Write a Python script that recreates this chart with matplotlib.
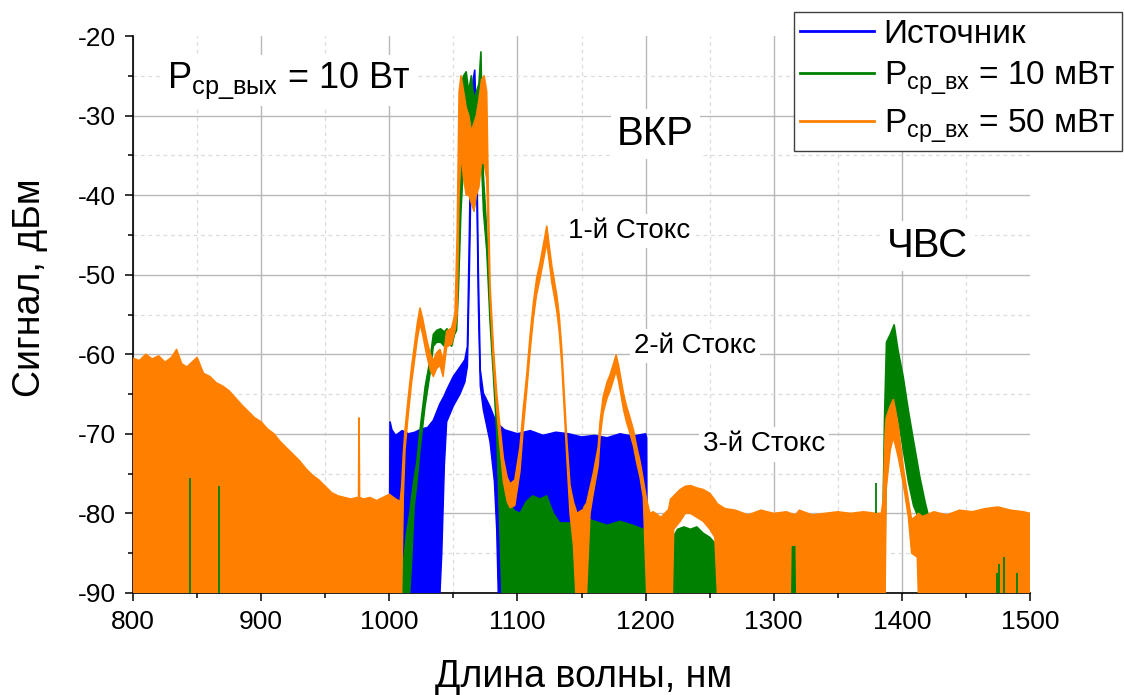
import numpy as np
import matplotlib
matplotlib.use('Agg')
import matplotlib.pyplot as plt
from matplotlib.lines import Line2D

plt.rcParams['font.family'] = ['Liberation Sans', 'DejaVu Sans']
plt.rcParams['mathtext.fontset'] = 'custom'
plt.rcParams['mathtext.rm'] = 'Liberation Sans'
plt.rcParams['mathtext.it'] = 'Liberation Sans'
plt.rcParams['mathtext.default'] = 'regular'
plt.rcParams['axes.unicode_minus'] = False

nan = np.nan

# Envelopes of the noisy spectra: wavelength (nm), top and bottom (dBm)
src_wl = [1000, 1000.6, 1002, 1005, 1010, 1015, 1020, 1025, 1030, 1034.4, 1039.6, 1041, 1043,
          1044.8, 1050, 1055.2, 1059, 1061, 1062.5, 1064, 1065.5, 1066.7, 1068, 1069.5, 1071,
          1073.4, 1078.6, 1082, 1083.8, 1085, 1090, 1100, 1110, 1120, 1130, 1140, 1150, 1160,
          1170, 1180, 1190, 1200, 1200.8, 1201.2]
src_top = [-90, -68.5, -69.5, -70.2, -69.6, -70.0, -69.8, -69.4, -69.2, -68.3, -66.2, -65.8, -65.2,
           -64.5, -62.8, -61.6, -60.7, -59, -45, -30, -25.5, -24.3, -32, -50, -62,
           -64.9, -66.6, -68, -68.3, -68.8, -69.5, -70.0, -69.6, -70.2, -69.8, -70.0, -70.4, -70.2,
           -70.5, -70.0, -70.3, -70.0, -70.5, -90]
src_bot = [-90, -90, -90, -90, -90, -90, -90, -90, -90, -90, -90, -85, -74,
           -68.5, -66.5, -65, -63.5, -61.5, -50, -36, -28, -27, -36, -54, -64,
           -67, -71, -76, -82, -90, -90, -90, -90, -90, -90, -90, -90, -90,
           -90, -90, -90, -90, -90, -90]

p10_wl = [1008, 1009, 1011, 1013.5, 1016, 1017.5, 1019.5, 1021.4, 1024, 1028, 1031.8, 1034.4, 1037,
          1040, 1043, 1045, 1048.7, 1051, 1052.6, 1054, 1056, 1058, 1060, 1062, 1064, 1066, 1068,
          1070, 1071.5, 1073.4, 1076, 1078.6, 1081.3, 1083.8, 1087.8, 1090, 1093, 1097, 1102, 1107,
          1112, 1117.6, 1122.8, 1128, 1133, 1144, 1150, 1156.6, 1170, 1180, 1190, 1198.2, 1200.8,
          1201.2, 1210,
          1221.0, 1221.6, 1225, 1230, 1235, 1240, 1245, 1250, 1255.5, 1256, 1290,
          1313, 1313.5, 1317.5, 1318, 1350,
          1385, 1385.5, 1386.5, 1388, 1391, 1394, 1397, 1401, 1405, 1409, 1414, 1418, 1421, 1422]
p10_top = [-90, -88, -86.3, -82.5, -80, -77.9, -75.5, -73.7, -69.5, -64.1, -60.7, -57.5, -57,
           -56.8, -57.2, -56.8, -57.6, -55.5, -54.4, -40, -26, -25, -24.5, -27, -25, -28, -27,
           -26, -22, -37.5, -44.4, -53.5, -60.3, -67.2, -74, -77, -78, -79.6, -80, -78.5,
           -77.8, -78.2, -77.8, -80, -81.2, -81.2, -81.5, -80.8, -81.5, -81, -81.5, -82, -82,
           -90, nan,
           -90, -83, -82, -81.7, -82, -81.7, -82.5, -83, -84, -90, nan,
           -90, -84, -84, -90, nan,
           -90, -78, -68, -58.5, -57.5, -56.3, -59.5, -62.8, -67, -70.8, -75.4, -78.5, -80.5, -90]
p10_bot = [-90, -90, -90, -90, -90, -86, -79, -76.5, -72, -66.5, -62.5, -59, -58.5,
           -58.5, -59, -58.5, -59, -57.5, -57, -52, -42, -36, -35, -38, -36, -42, -40,
           -38, -34, -42, -47, -56, -63, -70, -90, -90, -90, -90, -90, -90,
           -90, -90, -90, -90, -90, -90, -90, -90, -90, -90, -90, -90, -90,
           -90, nan,
           -90, -90, -90, -90, -90, -90, -90, -90, -90, -90, nan,
           -90, -90, -90, -90, nan,
           -90, -90, -90, -72, -68, -66, -68, -72, -76, -79, -81, -82, -83, -90]

p50_wl = [800, 805, 810, 815, 820, 825, 830, 834, 838, 842, 846, 850, 855, 860, 865, 870, 875,
          880, 885, 890, 895, 900, 905, 910, 915, 920, 925, 930, 935, 940, 945, 950, 955, 960,
          965, 970, 975, 976.0, 976.4, 976.8, 980, 985, 990, 995, 1000, 1005, 1008.5,
          1009.7, 1011, 1012.3, 1014.9, 1017.5, 1020, 1022, 1024, 1026, 1029, 1032, 1034.4, 1037,
          1039.6, 1042, 1044.8, 1048.7, 1051.3, 1053, 1054.5, 1056, 1058, 1060, 1062, 1064, 1066,
          1068, 1070, 1072, 1074, 1076, 1077.5, 1078.6, 1081.3, 1083.8, 1086, 1089, 1092, 1094.3,
          1098, 1102, 1104.5, 1107.3, 1110, 1112.5, 1115, 1117.7, 1120, 1122.9, 1124.5, 1126.8,
          1128.5, 1130.7, 1132.5, 1134.6, 1136.5, 1138.5, 1141, 1143.7, 1145.5, 1146.3, 1151.5,
          1152, 1154, 1156.7, 1159.2, 1163.1, 1164.5, 1167, 1170, 1172.3, 1175, 1177, 1179,
          1182.7, 1185.2, 1187, 1190.5, 1193, 1195.7, 1198.2, 1200.8, 1203.4, 1206,
          1212, 1218, 1219.5, 1221, 1222, 1227, 1231, 1235, 1240, 1245, 1250.2, 1254, 1256,
          1262, 1270, 1280, 1290, 1300, 1310, 1313, 1313.5, 1317.5, 1318, 1320, 1330, 1340,
          1350, 1360, 1370, 1380, 1384, 1385.5, 1387, 1387.8, 1391, 1393.3, 1395, 1397.2, 1401,
          1405, 1407.6, 1412, 1412.8, 1416, 1425, 1435, 1445, 1455, 1465, 1475, 1485, 1495, 1500]
p50_top = [-60.5, -60.8, -60.0, -60.6, -60.2, -61.0, -60.4, -59.4, -61.2, -61.6, -61.0, -60.4,
           -62.4, -62.8, -63.6, -64.0, -64.6, -65.5, -66.4, -67.2, -68.0, -68.5, -69.4, -70.0,
           -71.0, -71.8, -72.6, -73.4, -74.4, -75.2, -75.8, -76.6, -77.4, -77.8, -78.0, -78.2,
           -78.0, -78.0, -68.0, -78.0, -78.2, -78.0, -78.4, -78.0, -77.6, -78.2, -78.5,
           -76.6, -72.5, -69.5, -65.3, -61.5, -58.5, -56, -54.2, -55.5, -58, -60, -60.8, -59.8,
           -59.4, -60.8, -57.1, -56.7, -54.9, -45, -27, -25, -27, -29, -30, -32, -31,
           -30, -28, -25.5, -25, -27, -42, -51.2, -59.4, -64.9, -68.5, -73.1, -75.5, -76.3,
           -75.8, -71.7, -67, -62.6, -57.5, -53.5, -50.5, -48.5, -46.5, -43.9, -46, -48.9,
           -50.5, -52.6, -55, -59.4, -65, -70.8, -76.5, -78.6, -79.5, -80, -79.5,
           -79.2, -78.7, -76.8, -75, -71.6, -68.5, -65.3, -63.5, -62.6, -61.2, -60.1, -61.5,
           -64.9, -66.6, -67.5, -69.5, -71.6, -73.5, -75.8, -78.3, -80, -79.8,
           -80.5, -79.5, -78.2, -78.0, -77.8, -77.0, -76.6, -76.5, -76.8, -77.0, -77.5, -78.3, -78.8,
           -79.4, -79.6, -80.2, -79.6, -80.0, -79.8, -80.0, -80.0, -80.2, -80.0, -79.6, -80.2, -80.0,
           -79.8, -80.0, -79.8, -80.0, -80.0, -78.3, -70, -68, -66.5, -65.7, -67, -69.1, -74.1,
           -78.3, -80.8, -80.2, -80, -80.4, -79.8, -80.2, -79.6, -79.8, -79.4, -79.2, -79.6, -79.8, -80]
p50_bot = [-90] * 47 + \
          [-90, -78, -72, -67.5, -63.5, -60.5, -58, -56.2, -57.5, -60, -62, -62.8, -61.8,
           -61.4, -62.8, -59.1, -58.7, -57, -55, -40, -35, -38, -40, -40, -41, -42,
           -40, -39, -36, -36, -38, -47, -53, -61.4, -67, -71, -76, -78.5, -79.3,
           -79, -74.7, -69.5, -64.6, -59.5, -55.5, -52.5, -50.5, -48.5, -46, -48, -51,
           -52.5, -54.6, -57, -61.4, -67, -73, -80, -84, -90, -90, -90,
           -90, -90, -80, -77.5, -74, -70.5, -67.3, -65.5, -64.6, -63.2, -62.1, -63.5,
           -66.9, -68.6, -69.5, -71.5, -73.6, -75.5, -78, -90, -90, -90,
           -90, -90, -90, -90, -82, -81, -80, -80, -80.5, -81, -82, -83, -90,
           -90, -90, -90, -90, -90, -90, -90, -84, -84, -90, -90, -90, -90,
           -90, -90, -90, -90, -90, -90, -90, -77, -72, -70.5, -71.5, -73, -76.2,
           -80.4, -85, -85.5, -90, -90, -90, -90, -90, -90, -90, -90, -90, -90, -90]

# narrow dropouts where the 10 mW trace shows through
spike_wl = [844.5, 867.4, 1379.5, 1474, 1475.7, 1479.7, 1489.6]
spike_top = [-75.6, -76.5, -76.2, -87.5, -86.3, -85.5, -87.5]
spike_bot = [-90, -90, -80, -90, -90, -90, -90]

c_src, c_10, c_50 = '#0000ff', '#008000', '#ff8000'

fig = plt.figure(figsize=(11.24, 6.95), dpi=100)
ax = fig.add_axes([133 / 1124, 1 - 593 / 695, 897 / 1124, 557 / 695])
ax.set_axisbelow(True)

for wl, top, bot, c, z in [(src_wl, src_top, src_bot, c_src, 3),
                           (p10_wl, p10_top, p10_bot, c_10, 4),
                           (p50_wl, p50_top, p50_bot, c_50, 5)]:
    wl, top, bot = np.array(wl), np.array(top), np.array(bot)
    ax.fill_between(wl, bot, top, facecolor=c, edgecolor='none', zorder=z)
    ax.plot(wl, top, color=c, lw=1.2, zorder=z)
    ax.plot(wl, bot, color=c, lw=1.0, zorder=z)
ax.vlines(spike_wl, spike_bot, spike_top, color=c_10, lw=1.3, zorder=6)

ax.set_xlim(800, 1500)
ax.set_ylim(-90, -20)
ax.set_xticks(np.arange(800, 1501, 100))
ax.set_xticks(np.arange(850, 1500, 100), minor=True)
ax.set_yticks(np.arange(-90, -19, 10))
ax.set_yticks(np.arange(-85, -20, 10), minor=True)
ax.grid(which='major', color='#b8b8b8', lw=1.0)
ax.grid(which='minor', color='#dcdcdc', lw=0.9, ls=(0, (3, 3)))
ax.xaxis.get_gridlines()[-1].set_visible(False)
ax.yaxis.get_gridlines()[-1].set_visible(False)

for s in ['top', 'right']:
    ax.spines[s].set_visible(False)
for s in ['left', 'bottom']:
    ax.spines[s].set_linewidth(1.2)
ax.tick_params(which='major', length=6, width=1.1, labelsize=19, pad=6)
ax.tick_params(which='minor', length=3.5, width=1.1)

fig.text(30 / 1124, 1 - 288 / 695, 'Сигнал, дБм', rotation=90, fontsize=27,
         ha='center', va='center')
fig.text(584 / 1124, 1 - 687 / 695, 'Длина волны, нм', fontsize=27,
         ha='center', va='baseline')

box = dict(facecolor='white', edgecolor='none', boxstyle='square,pad=0.15')
ax.text(826.5, -26.5, r'P$_{ср\_вых}$ = 10 Вт', fontsize=26, ha='left', va='baseline',
        bbox=box, zorder=1)
ax.text(1207.4, -33.7, 'ВКР', fontsize=29, ha='center', va='baseline', bbox=box, zorder=1)
ax.text(1420.4, -47.8, 'ЧВС', fontsize=29, ha='center', va='baseline', bbox=box, zorder=1)
ax.text(1187.1, -45.4, '1-й Стокс', fontsize=20, ha='center', va='baseline', bbox=box, zorder=1)
ax.text(1238.6, -59.8, '2-й Стокс', fontsize=20, ha='center', va='baseline', bbox=box, zorder=1)
ax.text(1292.4, -72.2, '3-й Стокс', fontsize=20, ha='center', va='baseline', bbox=box, zorder=1)

handles = [Line2D([], [], color=c_src, lw=2),
           Line2D([], [], color=c_10, lw=2),
           Line2D([], [], color=c_50, lw=2)]
labels = ['Источник', r'P$_{ср\_вх}$ = 10 мВт', r'P$_{ср\_вх}$ = 50 мВт']
leg = fig.legend(handles, labels, loc='upper right', bbox_to_anchor=(1122 / 1124, 1 - 12 / 695),
                 fontsize=24, handlelength=2.2, handletextpad=0.3, borderpad=0.2,
                 labelspacing=0.3, fancybox=False, framealpha=1, borderaxespad=0)
leg.get_frame().set_edgecolor('#404040')
leg.get_frame().set_linewidth(1.0)

plt.savefig('out.png', dpi=100)
plt.close()
